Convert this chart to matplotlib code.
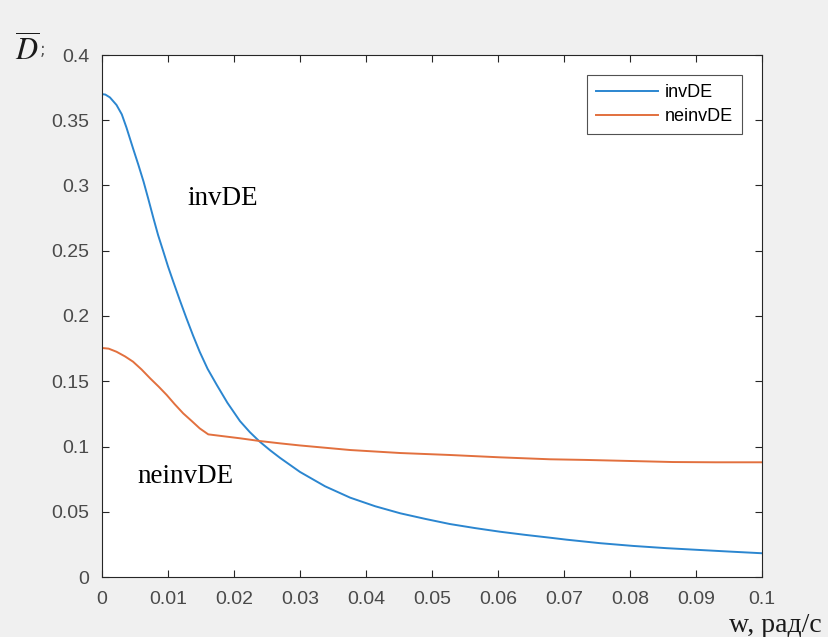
import numpy as np
import matplotlib
matplotlib.use('Agg')
import matplotlib.pyplot as plt

# данные
w_inv = [0, 0.0005, 0.0012, 0.0022, 0.0030, 0.0037, 0.0047, 0.0055, 0.0063, 0.0070, 0.0078,
         0.0085, 0.0093, 0.0100, 0.0108, 0.0118, 0.0128, 0.0138, 0.0148, 0.0160, 0.0174,
         0.0190, 0.0209, 0.0224, 0.0239, 0.0255, 0.0270, 0.0300, 0.0338, 0.0376, 0.0414,
         0.0452, 0.0490, 0.0527, 0.0565, 0.0603, 0.0641, 0.0679, 0.0704, 0.0755, 0.0805,
         0.0855, 0.0906, 0.0950, 0.1]
d_inv = [0.3700, 0.3697, 0.3675, 0.3617, 0.3545, 0.3445, 0.3285, 0.3160, 0.3029, 0.2900, 0.2748,
         0.2620, 0.2493, 0.2380, 0.2263, 0.2120, 0.1982, 0.1850, 0.1726, 0.1595, 0.1471,
         0.1335, 0.1195, 0.1110, 0.1037, 0.0970, 0.0912, 0.0805, 0.0695, 0.0608, 0.0542,
         0.0488, 0.0445, 0.0406, 0.0375, 0.0347, 0.0323, 0.0301, 0.0286, 0.0259, 0.0238,
         0.0221, 0.0207, 0.0195, 0.0182]

w_nein = [0, 0.0010, 0.0022, 0.0035, 0.0047, 0.0060, 0.0073, 0.0086, 0.0098, 0.0110, 0.0123,
          0.0136, 0.0148, 0.0161, 0.0185, 0.0209, 0.0239, 0.0270, 0.0300, 0.0376, 0.0452,
          0.0527, 0.0603, 0.0679, 0.0734, 0.0800, 0.0865, 0.0930, 0.1]
d_nein = [0.1755, 0.1750, 0.1726, 0.1690, 0.1650, 0.1590, 0.1522, 0.1458, 0.1395, 0.1325, 0.1254,
          0.1195, 0.1139, 0.1093, 0.1078, 0.1063, 0.1042, 0.1024, 0.1008, 0.0973, 0.0950,
          0.0935, 0.0917, 0.0902, 0.0897, 0.0889, 0.0881, 0.0879, 0.0879]

xticks = np.arange(0, 0.1001, 0.01)
yticks = np.arange(0, 0.4001, 0.05)
xlabels = ['0', '0.01', '0.02', '0.03', '0.04', '0.05', '0.06', '0.07', '0.08', '0.09', '0.1']
ylabels = ['0', '0.05', '0.1', '0.15', '0.2', '0.25', '0.3', '0.35', '0.4']

plt.rcParams['mathtext.fontset'] = 'stix'

fig = plt.figure(figsize=(8.29, 6.37), dpi=100, facecolor='#f0f0f0')
ax = fig.add_axes([102/829, 60/637, 660/829, 522/637])

ax.plot(w_inv, d_inv, color='#2b86d0', lw=1.4, label='invDE')
ax.plot(w_nein, d_nein, color='#e2703e', lw=1.4, label='neinvDE')

ax.set_xlim(0, 0.1)
ax.set_ylim(0, 0.4)
ax.set_xticks(xticks)
ax.set_yticks(yticks)
ax.set_xticklabels(xlabels)
ax.set_yticklabels(ylabels)
ax.tick_params(direction='in', top=True, right=True, length=5, color='#262626',
               labelcolor='#4a4a4a', labelsize=14)
for lab in ax.get_xticklabels() + ax.get_yticklabels():
    lab.set_family('Liberation Sans')
ax.tick_params(axis='x', pad=10)
ax.tick_params(axis='y', pad=9)
for s in ax.spines.values():
    s.set_color('#262626')
    s.set_linewidth(0.8)

ax.text(0.0129, 0.29, 'invDE', family='Liberation Serif', fontsize=19.5, va='center')
ax.text(0.0053, 0.077, 'neinvDE', family='Liberation Serif', fontsize=19.5, va='center')

leg = ax.legend(loc='upper right', bbox_to_anchor=(0.970, 0.962), fancybox=False,
                borderaxespad=0, prop={'family': 'Liberation Sans', 'size': 13},
                handlelength=3.4, borderpad=0.5, labelspacing=0.4, handletextpad=0.4)
leg.get_frame().set_edgecolor('#262626')
leg.get_frame().set_linewidth(0.8)

fig.text(15/829, 1 - 50/637, r'$\overline{D}$', fontsize=22, va='center', color='#1a1a1a')
fig.text(40/829, 1 - 50/637, ';', fontsize=12, va='center', color='#555555')
fig.text(729/829, 1 - 625/637, 'w, рад/с', family='Liberation Serif', fontsize=20,
         va='center', color='#1a1a1a')

plt.savefig('out.png', dpi=100, facecolor=fig.get_facecolor())
